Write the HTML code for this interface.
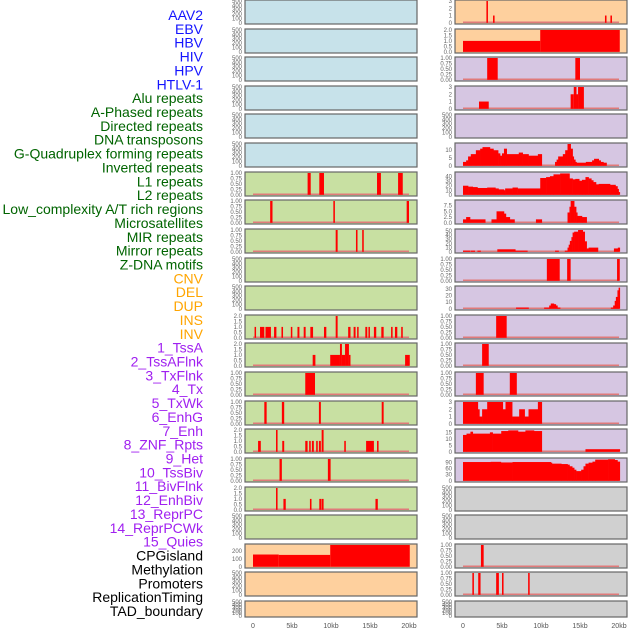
<!DOCTYPE html>
<html><head><meta charset="utf-8">
<style>
html,body{margin:0;padding:0;background:#fff;width:630px;height:630px;overflow:hidden}
svg{display:block;font-family:"Liberation Sans",sans-serif}
</style></head>
<body>
<svg id="chart" width="630" height="630" xmlns="http://www.w3.org/2000/svg"></svg>
<script>
// ---- data ----
const labels = ["AAV2","EBV","HBV","HIV","HPV","HTLV-1","Alu repeats","A-Phased repeats","Directed repeats","DNA transposons","G-Quadruplex forming repeats","Inverted repeats","L1 repeats","L2 repeats","Low_complexity A/T rich regions","Microsatellites","MIR repeats","Mirror repeats","Z-DNA motifs","CNV","DEL","DUP","INS","INV","1_TssA","2_TssAFlnk","3_TxFlnk","4_Tx","5_TxWk","6_EnhG","7_Enh","8_ZNF_Rpts","9_Het","10_TssBiv","11_BivFlnk","12_EnhBiv","13_ReprPC","14_ReprPCWk","15_Quies","CPGisland","Methylation","Promoters","ReplicationTiming","TAD_boundary"];
const labelGroups = [6,13,5,15,5];
const groupColors = ["#1414ff","#006400","#ffa500","#a020f0","#000000"];
const xTicks = [0,5,10,15,20];
const xTickLabels = ["0","5kb","10kb","15kb","20kb"];
const T500 = [0,100,200,300,400,500];
const T1 = [0,0.25,0.5,0.75,1];
const T2 = [0,0.5,1,1.5,2];
// bars: [startKb, endKb, value]; profile: edges + vals
const leftBg = ["#c7e2ea","#c7e2ea","#c7e2ea","#c7e2ea","#c7e2ea","#c7e2ea","#c8e0a2","#c8e0a2","#c8e0a2","#c8e0a2","#c8e0a2","#c8e0a2","#c8e0a2","#c8e0a2","#c8e0a2","#c8e0a2","#c8e0a2","#c8e0a2","#c8e0a2","#fed09e","#fed09e","#fed09e"];
const rightBg = ["#fed09e","#fed09e","#d6c6e2","#d6c6e2","#d6c6e2","#d6c6e2","#d6c6e2","#d6c6e2","#d6c6e2","#d6c6e2","#d6c6e2","#d6c6e2","#d6c6e2","#d6c6e2","#d6c6e2","#d6c6e2","#d6c6e2","#d0d0d0","#d0d0d0","#d0d0d0","#d0d0d0","#d0d0d0"];
const leftTicks = [T500,T500,T500,T500,T500,T500,T1,T1,T1,T500,T500,T2,T2,T1,T1,T2,T1,T2,T500,[0,100,200],T500,T500];
const leftMax = [500,500,500,500,500,500,1,1,1,500,500,2,2,1,1,2,1,2,500,275,500,500];
const leftBars = [[],[],[],[],[],[],
 [[7.0,7.4,1],[8.5,9.1,1],[15.9,16.4,1],[18.6,19.2,1]],
 [[2.2,2.5,1],[10.3,10.5,1],[19.7,20.0,1]],
 [[10.6,10.85,1],[13.2,13.4,1],[14.0,14.2,1]],
 [],[],
 [[0.2,0.35,1],[0.9,1.45,1],[1.6,2.3,1],[2.7,3.0,1],[3.65,3.85,1],[4.85,5.0,1],[5.7,5.95,1],[6.5,6.75,1],[7.35,7.7,1],[9.1,9.4,1],[10.6,10.85,2],[12.2,12.5,1],[12.9,13.15,1],[13.35,13.5,1],[14.4,14.65,1],[14.8,14.95,1],[15.5,15.8,1],[16.45,16.75,1],[17.7,17.9,1],[18.2,18.5,1],[19.0,19.2,1]],
 [[7.65,8.0,1],[9.9,11.15,1],[11.15,11.4,2],[11.4,11.8,1],[11.8,12.3,2],[12.3,12.5,1],[19.5,20.1,1]],
 [[6.7,7.95,1]],
 [[1.45,1.75,1],[3.7,4.0,1],[8.45,8.7,1],[16.5,16.75,1]],
 [[0.65,1.0,1],[2.95,3.15,2],[3.75,4.0,1],[6.7,7.0,1],[7.2,7.4,1],[7.55,7.8,1],[8.1,8.3,1],[8.45,8.7,1],[8.8,9.05,2],[11.7,11.9,1],[14.5,15.5,1],[15.9,16.1,1]],
 [[3.4,3.7,1],[9.6,9.95,1]],
 [[2.95,3.15,2],[3.9,4.2,1],[7.3,7.5,1],[8.5,8.75,1],[8.8,9.05,1],[15.7,16.0,1]],
 [],
 [[0,3.3,155],[3.3,9.9,150],[9.9,20.1,275]],
 [],[]];
const leftBase = [0,0,0,0,0,0,1,1,1,0,0,1,1,1,1,1,1,1,0,0,0,0];

const rightTicks = [[0,1,2,3],T2,T1,[0,1,2,3],T500,[0,5,10],[0,10,20,30,40],[0,2.5,5,7.5],[0,10,20,30,40,50],T1,[0,10,20,30],T1,T1,T1,[0,1,2,3],[0,5,10,15],[0,30,60,90],T500,T500,T1,T1,T500];
const rightMax = [3,2,1,3,500,14,48,9.5,52,1,33,1,1,1,3,16.8,108,500,500,1,1,500];
const rightBars = [
 [[3.0,3.2,3],[3.85,4.05,1],[18.2,18.4,1],[18.9,19.1,1]],
 [[0,9.9,1],[9.9,20.1,2]],
 [[3.1,4.45,1],[14.4,15.0,1]],
 [[2.05,3.3,1],[13.8,14.2,2],[14.2,14.55,3],[14.55,14.75,2],[14.75,15.5,3]],
 [],null,null,null,null,
 [[10.75,12.4,1],[13.35,13.8,1],[19.75,20.1,1]],
 null,
 [[4.25,5.6,1]],
 [[2.45,3.3,1]],
 [[1.65,2.65,1],[6.0,6.9,1]],
 null,null,null,[],[],
 [[2.3,2.65,1]],
 [[1.2,1.4,1],[1.95,2.25,1],[4.25,4.6,1],[5.0,5.2,1],[8.35,8.55,1]],
 []];
const rightBase = [1,1,1,1,0,1,1,1,1,1,1,1,1,1,1,1,1,0,0,1,1,0];
// step profiles (edges in kb, values)
const gquadEdges = [0,0.4,0.65,1.0,1.65,2.2,2.5,3.45,3.9,4.5,4.75,5.0,5.25,5.6,7.15,7.65,8.4,9.6,10.1,11.8,12.0,12.2,12.8,13.1,13.4,13.8,14.05,14.2,14.4,14.55,15.75,16.55,16.8,17.4,17.65,18.0,18.4];
const gquadVals = [2.5,3.5,6,7.5,10,11,12,11,10,8,6.5,8,11,7.5,8.5,7.5,6.5,7.5,0,2.5,4,6,7.5,10,14,11,6,4,2.5,2,2.5,3.5,4.5,3.5,2.5,2];
const l1Edges = [0,0.65,1.25,1.85,3.1,4.15,4.55,5.25,5.4,6.35,7.0,9.9,10.65,11.15,11.6,12.45,13.65,14.05,14.4,14.9,15.25,15.7,16.1,16.45,16.7,17.05,17.4,18.85,19.55,19.8,19.95,20.1];
const l1Vals = [20,18,17,15,16,14,12,10,14,16,14,37,39,41,45,47,36,34,35,31,33,39,36,32,28,23,24,22,19,13,6];
const l2Edges = [0,0.4,0.9,2.85,3.65,4.3,5.25,5.5,6.0,6.6,9.35,10.1,13.4,13.65,13.8,14.25,14.5,14.65,15.25,15.85];
const l2Vals = [1.5,2.5,1.5,0,1.5,5,4,2.5,1.5,0,1.5,0,4.5,7,9.5,7,4.5,3,2.5];
const lowcEdges = [0,0.9,1.0,1.5,1.85,2.25,4.4,6.7,8.25,11.8,12.25,13.05,13.4,13.55,13.7,13.9,14.05,14.25,14.75,15.35,15.6,15.85,16.1,17.3,19.35,19.85,20.1];
const lowcVals = [3,0,3,0,3,0,6,3,0,3,0,3,10,17,26,35,46,48,52,48,25,8,10,0,8,10];
const mirEdges = [6.8,8.4,10.4,11.05,11.25,11.65,11.9,12.1,12.45,18.95,19.25,19.45,19.6,19.8,19.95,20.1];
const mirVals = [2,0,2,5,8,7,5,2,0,2,5,12,18,28,32];
const enhgEdges = [0,1.9,2.1,2.45,3.1,5.1,5.45,6.3,7.2,7.9,8.4,9.6,10.1];
const enhgVals = [3,2,1,2,3,2,3,1,2,1,2,3];
const enhEdges = [0,0.45,0.95,1.25,3.45,3.8,4.9,5.8,7.05,8.0,9.1,10.1,15.7,20.1];
const enhVals = [13,14,15.5,14,15,14,16,16.5,15.5,16.5,16,0,2];
const znfEdges = [0,3.55,4.85,6.35,11.25,11.4,12.6,13.4,13.65,14.0,14.25,14.5,15.15,15.45,15.7,16.1,16.6,16.95,18.6,19.45,19.8,20.1];
const znfVals = [93,94,91,93,90,85,83,80,72,65,55,48,55,72,85,90,95,105,107,103,95];
const profiles = {5:[gquadEdges,gquadVals],6:[l1Edges,l1Vals],7:[l2Edges,l2Vals],8:[lowcEdges,lowcVals],10:[mirEdges,mirVals],14:[enhgEdges,enhgVals],15:[enhEdges,enhVals],16:[znfEdges,znfVals]};

// ---- drawing ----
const svg = document.getElementById('chart');
const NS = 'http://www.w3.org/2000/svg';
function mk(tag, attrs, parent){const e=document.createElementNS(NS,tag);for(const k in attrs)e.setAttribute(k,attrs[k]);(parent||svg).appendChild(e);return e;}

// labels
let li=0;
labelGroups.forEach((n,g)=>{for(let k=0;k<n;k++){
  const t=mk('text',{x:203,y:15+li*13.86+5,'text-anchor':'end','font-size':'14',fill:groupColors[g]});
  t.textContent=labels[li];
  
  
  li++;}});

const cols=[{x0:245,bg:rightBg,side:'left'},{x0:455,side:'right'}];
function fmt(v,ticks){const st=ticks.length>1?ticks[1]-ticks[0]:1;
  if(st===0.25) return v.toFixed(2); if(st===0.5||st===2.5) return v.toFixed(1); return String(v);}

function drawPanel(col,i,bg,ticks,ymax,bars,prof,base){
  const x0=col===0?245:455, W=172;
  const top=Math.round(i*28.62), H=(i===21)?16:24;
  const g=mk('g',{});
  
  
  const r=mk('rect',{x:x0,y:top,width:W,height:H,fill:bg,stroke:'#666','stroke-width':1.2},g);
  
  
  const zx=x0+8, kx=7.8;
  const X=kb=>zx+kb*kx;
  const yb=top+H-1.2, yt=top+1;
  const Y=v=>yb-(v/ymax)*(yb-yt);
  // ticks
  ticks.forEach(v=>{const t=mk('text',{x:x0-3,y:Y(v)+2,'text-anchor':'end','font-size':'6',fill:'#666'},g);
    t.textContent=fmt(v,ticks);
    
    });
  if(base){const l=mk('line',{x1:X(0),x2:X(20),y1:yb-0.5,y2:yb-0.5,stroke:'#e07a7a','stroke-width':1.5},g);
    
    }
  if(bars) bars.forEach(b=>{const x1=X(b[0]),x2=X(b[1]);
    const rr=mk('rect',{x:x1,y:Y(b[2]),width:Math.max(1.5,x2-x1),height:yb-Y(b[2]),fill:'#ff0000'},g);
    
    });
  if(prof){const [e,v]=prof;
    for(let k=0;k<v.length;k++){ if(!v[k]) continue;
      const x1=X(e[k]),x2=X(e[k+1]),yy=Y(Math.min(v[k],ymax));
      const rr=mk('rect',{x:x1,y:yy,width:x2-x1+0.3,height:yb-yy,fill:'#ff0000'},g);
      
      }}
}
for(let i=0;i<22;i++){
  drawPanel(0,i,leftBg[i],leftTicks[i],leftMax[i],leftBars[i],null,leftBase[i]);
  drawPanel(1,i,rightBg[i],rightTicks[i],rightMax[i],rightBars[i],profiles[i]||null,rightBase[i]);
}
// x axes
[253,463].forEach((zx,c)=>{xTicks.forEach((v,k)=>{
  const t=mk('text',{x:zx+v*7.8,y:628,'text-anchor':'middle','font-size':'7',fill:'#555'});
  t.textContent=xTickLabels[k];
  
  });});
</script>
</body></html>
